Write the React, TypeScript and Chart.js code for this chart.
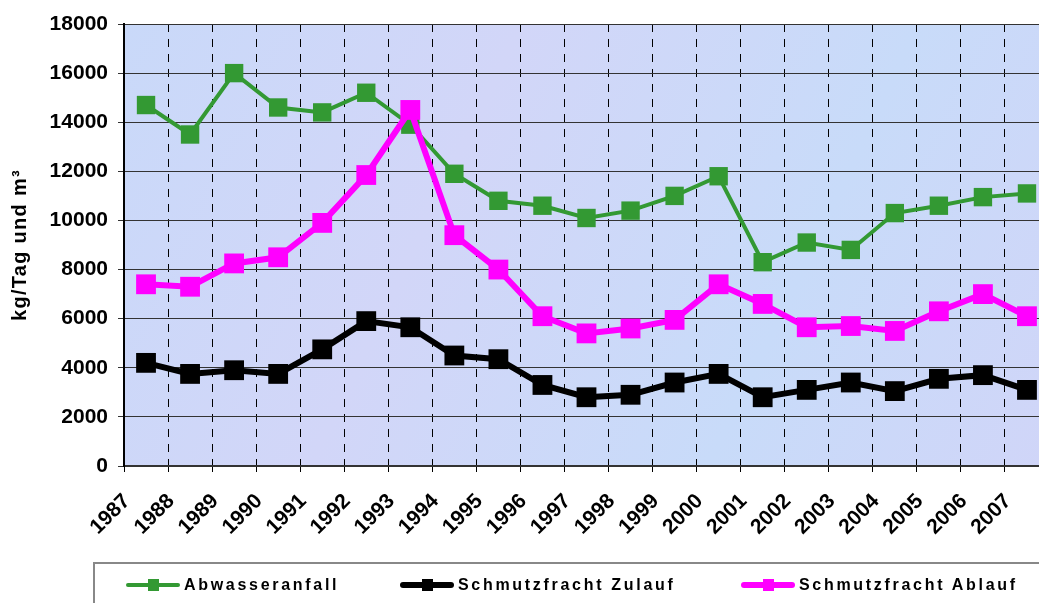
import React, { useEffect, useRef } from "react";
import { Chart, registerables } from "chart.js";

Chart.register(...registerables);

const years = ["1987","1988","1989","1990","1991","1992","1993","1994","1995","1996","1997","1998","1999","2000","2001","2002","2003","2004","2005","2006","2007"];
const abwasseranfall = [14700,13500,16000,14600,14400,15200,13900,11900,10800,10600,10100,10400,11000,11800,8300,9100,8800,10300,10600,10950,11100];
const zulauf = [4200,3750,3900,3750,4750,5900,5650,4500,4350,3300,2800,2900,3400,3750,2800,3100,3400,3050,3550,3700,3100];
const ablauf = [7400,7300,8250,8500,9900,11850,14500,9400,8000,6100,5400,5600,5950,7400,6600,5650,5700,5500,6300,7000,6100];
const yTicks = [0,2000,4000,6000,8000,10000,12000,14000,16000,18000];
const yTitle = "kg/Tag und m³";

const FONT = "'Liberation Sans', Arial, sans-serif";

const bgPlugin = {
  id: "plotBg",
  beforeDraw(chart: any) {
    const { ctx, chartArea } = chart;
    if (!chartArea) return;
    ctx.save();
    const g = ctx.createLinearGradient(chartArea.left, chartArea.top, chartArea.right, chartArea.bottom);
    g.addColorStop(0, "#c9d9f9");
    g.addColorStop(0.35, "#d2d6f8");
    g.addColorStop(0.7, "#c8dbf9");
    g.addColorStop(1, "#d0d5f8");
    ctx.fillStyle = g;
    ctx.fillRect(chartArea.left, chartArea.top, chartArea.right - chartArea.left, chartArea.bottom - chartArea.top);
    ctx.restore();
  },
  afterDraw(chart: any) {
    const { ctx, chartArea } = chart;
    ctx.save();
    ctx.translate(20, (chartArea.top + chartArea.bottom) / 2);
    ctx.rotate(-Math.PI / 2);
    ctx.font = `bold 20px ${FONT}`;
    (ctx as any).letterSpacing = "1.3px";
    ctx.fillStyle = "#000";
    ctx.textAlign = "center";
    ctx.textBaseline = "middle";
    ctx.fillText(yTitle, 0, 0);
    ctx.restore();
  },
};

function LegendItem({ color, lw, label, left }: { color: string; lw: number; label: string; left: number }) {
  return (
    <div style={{ position: "absolute", left, top: 575, height: 20, display: "flex", alignItems: "center" }}>
      <div style={{ position: "relative", width: 54, height: 20 }}>
        <div style={{ position: "absolute", left: 0, width: 54, top: 10 - lw / 2, height: lw, background: color, borderRadius: lw / 2 }} />
        <div style={{ position: "absolute", left: 22, width: 11, top: 4, height: 12, background: color }} />
      </div>
      <span style={{ marginLeft: 4, fontFamily: FONT, fontWeight: "bold", fontSize: 16, letterSpacing: "2.7px", color: "#000", whiteSpace: "nowrap" }}>{label}</span>
    </div>
  );
}

export default function App() {
  const ref = useRef<HTMLCanvasElement>(null);
  useEffect(() => {
    const chart = new Chart(ref.current!, {
      type: "line",
      data: {
        labels: years,
        datasets: [
          { label: "Abwasseranfall", data: abwasseranfall, borderColor: "#339933", backgroundColor: "#339933", borderWidth: 4, pointStyle: "rect", pointRadius: 13, pointBorderWidth: 0, order: 2 },
          { label: "Schmutzfracht Zulauf", data: zulauf, borderColor: "#000000", backgroundColor: "#000000", borderWidth: 6, pointStyle: "rect", pointRadius: 14, pointBorderWidth: 0, order: 1 },
          { label: "Schmutzfracht Ablauf", data: ablauf, borderColor: "#ff00ff", backgroundColor: "#ff00ff", borderWidth: 6, pointStyle: "rect", pointRadius: 14, pointBorderWidth: 0, order: 0 },
        ],
      },
      options: {
        responsive: false,
        animation: false,
        devicePixelRatio: 1,
        layout: { padding: { top: 24, bottom: 57, left: 0, right: 2 } },
        plugins: { legend: { display: false }, tooltip: { enabled: false } },
        elements: { line: { tension: 0 } },
        scales: {
          x: {
            type: "category",
            offset: true,
            afterFit: (s: any) => { s.height = 80; },
            grid: { offset: true, color: "#000", lineWidth: 1, tickLength: 6, tickColor: "#000", tickBorderDash: [], drawTicks: true } as any,
            border: { display: true, color: "#333", width: 2, dash: [8, 7] },
            ticks: { autoSkip: false, minRotation: 45, maxRotation: 45, labelOffset: -19, padding: 17, color: "#000", font: { family: FONT, weight: "bold", size: 21 } },
          },
          y: {
            min: 0,
            max: 18000,
            afterFit: (s: any) => { s.width = 124; },
            afterBuildTicks: (s: any) => { s.ticks = yTicks.map((v) => ({ value: v })); },
            grid: { color: "#333", lineWidth: 1, tickLength: 6, tickColor: "#333" },
            border: { display: true, color: "#000", width: 2 },
            ticks: { padding: 10, color: "#000", font: { family: FONT, weight: "bold", size: 21 }, callback: (v: any) => String(v) },
          },
        },
      },
      plugins: [bgPlugin],
    } as any);
    return () => chart.destroy();
  }, []);
  return (
    <div style={{ position: "fixed", left: 0, top: 0, width: 1039, height: 603, overflow: "hidden", background: "#fff" }}>
      <canvas ref={ref} width={1063} height={603} style={{ position: "absolute", left: 0, top: 0 }} />
      <div style={{ position: "absolute", left: 93, top: 562, width: 1000, height: 100, border: "2px solid #888", boxSizing: "border-box" }} />
      <LegendItem color="#339933" lw={4} label="Abwasseranfall" left={126} />
      <LegendItem color="#000000" lw={6} label="Schmutzfracht Zulauf" left={400} />
      <LegendItem color="#ff00ff" lw={6} label="Schmutzfracht Ablauf" left={741} />
    </div>
  );
}
